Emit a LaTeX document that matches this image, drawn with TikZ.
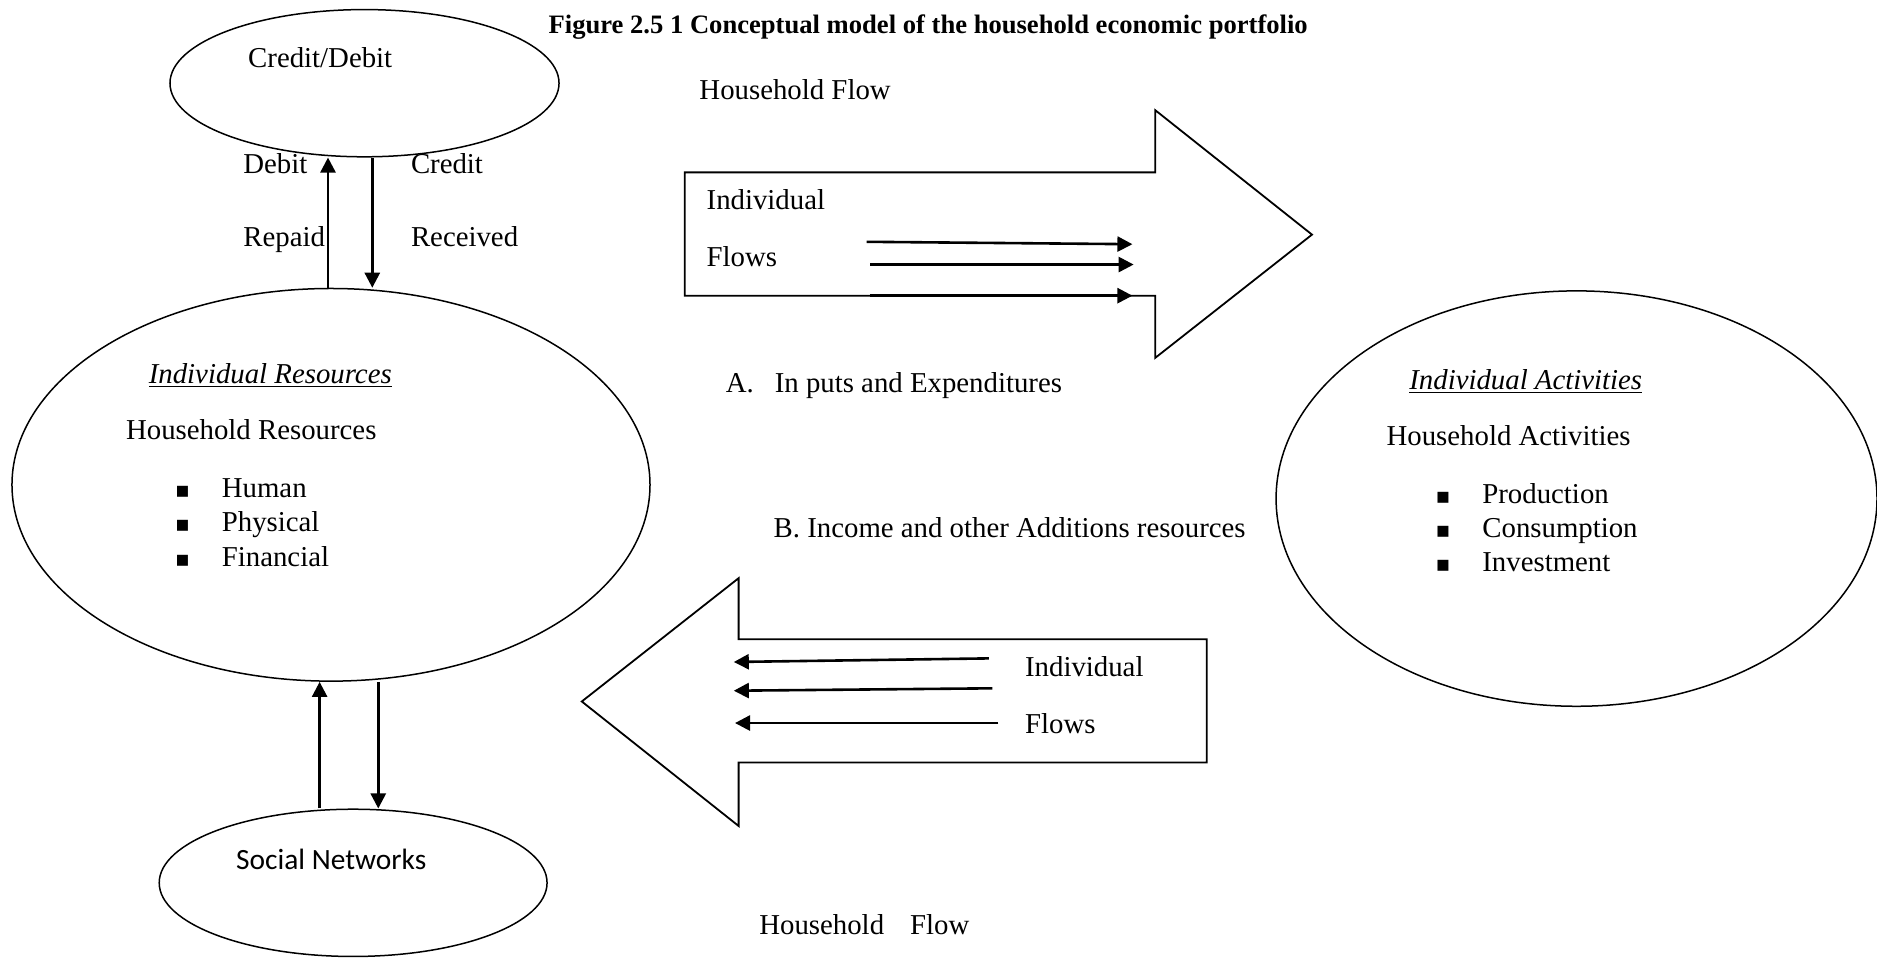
\documentclass[tikz,border=0pt]{standalone}
\usepackage{fontspec}
\setmainfont{Liberation Serif}
\newfontfamily\calfont{Carlito}
\newfontfamily\symfont{DejaVu Sans}
\usetikzlibrary{shapes.geometric,arrows.meta,calc}
\newcommand\pxu{0.5985pt}
\begin{document}
\begin{tikzpicture}[x=0.5985pt,y=-0.5985pt,
  ell/.style={draw,ellipse,line width=0.75pt,inner sep=0},
  txt/.style={anchor=base west,inner sep=0,font=\fontsize{14.4}{17}\selectfont},
  ttl/.style={anchor=base west,inner sep=0,font=\fontsize{13.3}{16}\selectfont\bfseries},
  sn/.style={anchor=base west,inner sep=0,font=\fontsize{14.7}{17}\selectfont\calfont},
  bul/.style={anchor=base west,inner sep=0,font=\fontsize{11}{13}\selectfont\symfont},
  arr/.style={line width=1.3pt,-{Triangle[length=7.5pt,width=7.5pt]}},
  blk/.style={draw,line width=0.9pt,line join=miter}]
\useasboundingbox (0,0) rectangle (1568,801);

% ellipses
\node[ell,minimum width=325*\pxu,minimum height=123*\pxu] (cd) at (304.5,69.5) {};
\node[ell,minimum width=533*\pxu,minimum height=328*\pxu] (res) at (276.5,405) {};
\node[ell,minimum width=324*\pxu,minimum height=123*\pxu] (soc) at (295,737.5) {};
\node[ell,minimum width=502*\pxu,minimum height=347*\pxu] (act) at (1317,416.5) {};

% vertical connectors
\coordinate (u1) at (274,0); \coordinate (d1) at (311,0);
\coordinate (u2) at (267,0); \coordinate (d2) at (316,0);
\draw[arr] (res.north -| u1) -- (cd.south -| u1);
\draw[arr] (cd.south -| d1) -- (res.north -| d1);
\draw[arr] (soc.north -| u2) -- (res.south -| u2);
\draw[arr] (res.south -| d2) -- (soc.north -| d2);

% block arrows
\draw[blk] (572,144) -- (965,144) -- (965,92) -- (1096,196) -- (965,299) -- (965,247) -- (572,247) -- cycle;
\draw[blk] (1008,534) -- (617,534) -- (617,483) -- (486,586) -- (617,690) -- (617,637) -- (1008,637) -- cycle;

% inner flow arrows
\coordinate (a1s) at (724,202); \coordinate (a1e) at (946,204);
\coordinate (a2s) at (727,221); \coordinate (a2e) at (947,221);
\coordinate (a3s) at (727,247); \coordinate (a3e) at (946,247);
\draw[arr] (a1s) -- (a1e);
\draw[arr] (a2s) -- (a2e);
\draw[arr] (a3s) -- (a3e);
\coordinate (b1s) at (826,550); \coordinate (b1e) at (613,553);
\coordinate (b2s) at (829,575); \coordinate (b2e) at (613,577);
\coordinate (b3s) at (834,604); \coordinate (b3e) at (614,604);
\draw[arr] (b1s) -- (b1e);
\draw[arr] (b2s) -- (b2e);
\draw[arr] (b3s) -- (b3e);

% texts
\node[ttl] (title) at (458,28) {Figure 2.5 1 Conceptual model of the household economic portfolio};
\node[txt] (tcd) at (207,56) {Credit/Debit};
\node[txt] (tdeb) at (203,145) {Debit};
\node[txt] (tcre) at (343,145) {Credit};
\node[txt] (trep) at (203,206) {Repaid};
\node[txt] (trec) at (343,206) {Received};
\node[txt] (thf1) at (584,83) {Household Flow};
\node[txt] (tind1) at (590,175) {Individual};
\node[txt] (tflo1) at (590,223) {Flows};
\node[txt] (ta) at (606,328) {A.\hspace{10.5pt}In puts and Expenditures};
\node[txt] (tb) at (646,449) {B. Income and other Additions resources};
\node[txt] (tind2) at (856,565) {Individual};
\node[txt] (tflo2) at (856,613) {Flows};
\node[txt] (thf2) at (634,781) {Household\hspace{13pt}Flow};
\node[sn] (tsoc) at (197,726) {Social Networks};

\node[txt] (tir) at (124,320) {\underline{\textit{Individual Resources}}};
\node[txt] (thr) at (105,367) {Household Resources};
\foreach \t/\yy [count=\i] in {Human/416,Physical/444,Financial/473}{
  \node[bul] (rb\i) at (146,\yy) {▪};
  \node[txt] (rt\i) at (185,\yy) {\t};
}
\node[txt] (tia) at (1177,325) {\underline{\textit{Individual Activities}}};
\node[txt] (tha) at (1158,372) {Household Activities};
\foreach \t/\yy [count=\i] in {Production/421,Consumption/449,Investment/477}{
  \node[bul] (ab\i) at (1199,\yy) {▪};
  \node[txt] (at\i) at (1238,\yy) {\t};
}
\end{tikzpicture}
\end{document}
